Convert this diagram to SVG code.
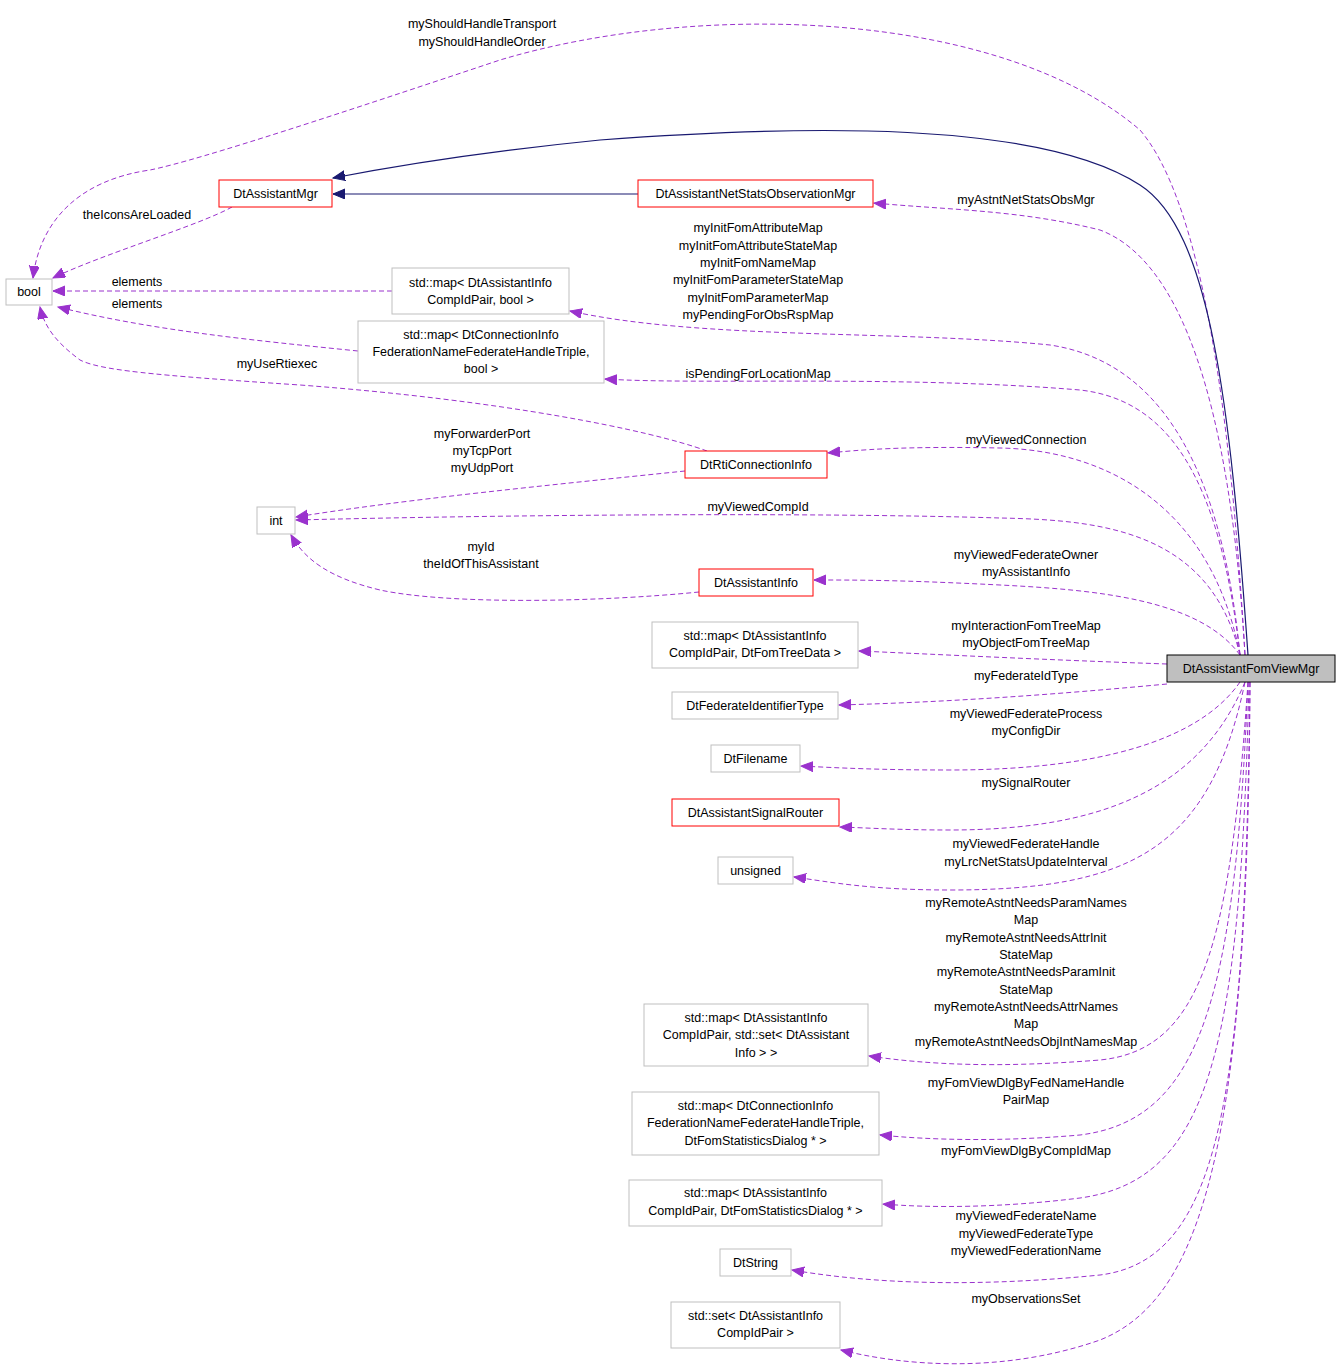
<svg xmlns="http://www.w3.org/2000/svg" width="1341" height="1371" viewBox="0 0 1341 1371">
<style>
text{font-family:"Liberation Sans",Arial,sans-serif;font-size:12.5px;fill:#000;text-anchor:middle}
.n rect{fill:#fff;stroke:#bfbfbf;stroke-width:1}
.r rect{fill:#fff;stroke:#ff0000;stroke-width:1}
.d{fill:none;stroke:#9a32cd;stroke-width:1;stroke-dasharray:5,3;marker-end:url(#pa)}
.s{fill:none;stroke:#191970;stroke-width:1.2;marker-end:url(#na)}
</style>
<defs>
<marker id="pa" markerUnits="userSpaceOnUse" markerWidth="14" markerHeight="12" refX="12" refY="5" orient="auto" viewBox="0 0 14 12"><path d="M0,0 L12,5 L0,10 Z" fill="#9a32cd" stroke="#9a32cd"/></marker>
<marker id="na" markerUnits="userSpaceOnUse" markerWidth="14" markerHeight="12" refX="12" refY="5" orient="auto" viewBox="0 0 14 12"><path d="M0,0 L12,5 L0,10 Z" fill="#191970" stroke="#191970"/></marker>
</defs>
<rect width="1341" height="1371" fill="#fff"/>
<g id="edges">
<path class="d" d="M1245,655 C1230,400 1200,200 1140,130 C1000,10 700,0 500,60 C350,110 200,160 150,170 C80,180 40,220 33,278"/>
<path class="s" d="M1248,655 C1230,400 1210,230 1140,185 C1040,120 800,125 600,140 C500,150 400,165 333,178"/>
<path class="s" d="M638,194 L333,194"/>
<path class="d" d="M1245,655 C1230,400 1180,260 1100,230 C1020,210 950,210 874,203"/>
<path class="d" d="M232,207 C200,225 100,255 53,278"/>
<path class="d" d="M392,291 L53,291"/>
<path class="d" d="M358,351 C250,340 150,330 58,307"/>
<path class="d" d="M707,451 C650,430 500,400 300,385 C150,375 100,370 80,360 C60,345 45,330 40,307"/>
<path class="d" d="M1240,655 C1220,450 1150,360 1050,345 C900,330 700,340 570,311"/>
<path class="d" d="M1240,655 C1220,480 1170,400 1080,390 C900,375 700,385 605,379"/>
<path class="d" d="M1240,655 C1210,500 1100,450 1000,448 C900,446 860,450 828,453"/>
<path class="d" d="M685,471 C550,485 400,500 296,517"/>
<path class="d" d="M1240,655 C1210,530 1100,520 1000,518 C800,512 500,515 296,520"/>
<path class="d" d="M699,592 C600,602 450,605 380,590 C330,578 305,560 291,535"/>
<path class="d" d="M1240,655 C1200,600 1100,590 1000,585 C900,580 860,580 814,580"/>
<path class="d" d="M1167,664 C1050,660 950,655 859,651"/>
<path class="d" d="M1167,684 C1050,695 950,702 839,705"/>
<path class="d" d="M1240,682 C1200,740 1100,770 950,770 C880,770 840,768 801,766"/>
<path class="d" d="M1245,682 C1200,790 1100,830 950,830 C900,830 870,828 840,827"/>
<path class="d" d="M1245,682 C1210,850 1130,890 950,890 C870,890 830,882 794,877"/>
<path class="d" d="M1248,682 C1230,950 1200,1050 1100,1060 C1000,1068 930,1065 869,1056"/>
<path class="d" d="M1248,682 C1235,1000 1200,1120 1080,1135 C1000,1142 930,1140 880,1135"/>
<path class="d" d="M1249,682 C1240,1050 1210,1180 1080,1198 C1000,1208 930,1208 883,1204"/>
<path class="d" d="M1250,682 C1245,1100 1220,1260 1100,1275 C950,1290 850,1280 792,1270"/>
<path class="d" d="M1250,682 C1248,1150 1200,1300 1100,1340 C1000,1375 900,1365 841,1350"/>
</g>
<g id="labels">
<text x="482" y="28">myShouldHandleTransport</text><text x="482" y="46">myShouldHandleOrder</text>
<text x="1026" y="204">myAstntNetStatsObsMgr</text>
<text x="137" y="219">theIconsAreLoaded</text>
<text x="137" y="286">elements</text>
<text x="137" y="308">elements</text>
<text x="277" y="368">myUseRtiexec</text>
<text x="758" y="232">myInitFomAttributeMap</text><text x="758" y="250">myInitFomAttributeStateMap</text><text x="758" y="267">myInitFomNameMap</text><text x="758" y="284">myInitFomParameterStateMap</text><text x="758" y="302">myInitFomParameterMap</text><text x="758" y="319">myPendingForObsRspMap</text>
<text x="758" y="378">isPendingForLocationMap</text>
<text x="1026" y="444">myViewedConnection</text>
<text x="482" y="438">myForwarderPort</text><text x="482" y="455">myTcpPort</text><text x="482" y="472">myUdpPort</text>
<text x="758" y="511">myViewedCompId</text>
<text x="481" y="551">myId</text><text x="481" y="568">theIdOfThisAssistant</text>
<text x="1026" y="559">myViewedFederateOwner</text><text x="1026" y="576">myAssistantInfo</text>
<text x="1026" y="630">myInteractionFomTreeMap</text><text x="1026" y="647">myObjectFomTreeMap</text>
<text x="1026" y="680">myFederateIdType</text>
<text x="1026" y="718">myViewedFederateProcess</text><text x="1026" y="735">myConfigDir</text>
<text x="1026" y="787">mySignalRouter</text>
<text x="1026" y="848">myViewedFederateHandle</text><text x="1026" y="866">myLrcNetStatsUpdateInterval</text>
<text x="1026" y="907">myRemoteAstntNeedsParamNames</text><text x="1026" y="924">Map</text><text x="1026" y="942">myRemoteAstntNeedsAttrInit</text><text x="1026" y="959">StateMap</text><text x="1026" y="976">myRemoteAstntNeedsParamInit</text><text x="1026" y="994">StateMap</text><text x="1026" y="1011">myRemoteAstntNeedsAttrNames</text><text x="1026" y="1028">Map</text><text x="1026" y="1046">myRemoteAstntNeedsObjIntNamesMap</text>
<text x="1026" y="1087">myFomViewDlgByFedNameHandle</text><text x="1026" y="1104">PairMap</text>
<text x="1026" y="1155">myFomViewDlgByCompIdMap</text>
<text x="1026" y="1220">myViewedFederateName</text><text x="1026" y="1238">myViewedFederateType</text><text x="1026" y="1255">myViewedFederationName</text>
<text x="1026" y="1303">myObservationsSet</text>
</g>
<g id="bool" class="n"><rect x="6" y="279" width="46" height="26"/><text x="29" y="296">bool</text></g>
<g id="DtAssistantMgr" class="r"><rect x="219" y="180" width="113" height="27"/><text x="275.5" y="198">DtAssistantMgr</text></g>
<g id="DtAssistantNetStatsObservationMgr" class="r"><rect x="638" y="180" width="235" height="27"/><text x="755.5" y="198">DtAssistantNetStatsObservationMgr</text></g>
<g id="map1" class="n"><rect x="392" y="268" width="177" height="46"/><text x="480.5" y="287">std::map&lt; DtAssistantInfo</text><text x="480.5" y="304">CompIdPair, bool &gt;</text></g>
<g id="map2" class="n"><rect x="358" y="321" width="246" height="62"/><text x="481" y="339">std::map&lt; DtConnectionInfo</text><text x="481" y="356">FederationNameFederateHandleTriple,</text><text x="481" y="373">bool &gt;</text></g>
<g id="DtRtiConnectionInfo" class="r"><rect x="685" y="451" width="142" height="27"/><text x="756" y="469">DtRtiConnectionInfo</text></g>
<g id="int" class="n"><rect x="257" y="507" width="38" height="27"/><text x="276" y="525">int</text></g>
<g id="DtAssistantInfo" class="r"><rect x="699" y="569" width="114" height="27"/><text x="756" y="587">DtAssistantInfo</text></g>
<g id="map3" class="n"><rect x="652" y="622" width="206" height="46"/><text x="755" y="640">std::map&lt; DtAssistantInfo</text><text x="755" y="657">CompIdPair, DtFomTreeData &gt;</text></g>
<g id="DtFederateIdentifierType" class="n"><rect x="672" y="692" width="166" height="27"/><text x="755" y="710">DtFederateIdentifierType</text></g>
<g id="DtFilename" class="n"><rect x="711" y="745" width="89" height="27"/><text x="755.5" y="763">DtFilename</text></g>
<g id="DtAssistantSignalRouter" class="r"><rect x="672" y="799" width="167" height="27"/><text x="755.5" y="817">DtAssistantSignalRouter</text></g>
<g id="unsigned" class="n"><rect x="718" y="857" width="75" height="27"/><text x="755.5" y="875">unsigned</text></g>
<g id="map4" class="n"><rect x="644" y="1004" width="224" height="62"/><text x="756" y="1022">std::map&lt; DtAssistantInfo</text><text x="756" y="1039">CompIdPair, std::set&lt; DtAssistant</text><text x="756" y="1057">Info &gt; &gt;</text></g>
<g id="map5" class="n"><rect x="632" y="1092" width="247" height="63"/><text x="755.5" y="1110">std::map&lt; DtConnectionInfo</text><text x="755.5" y="1127">FederationNameFederateHandleTriple,</text><text x="755.5" y="1145">DtFomStatisticsDialog * &gt;</text></g>
<g id="map6" class="n"><rect x="629" y="1180" width="253" height="46"/><text x="755.5" y="1197">std::map&lt; DtAssistantInfo</text><text x="755.5" y="1215">CompIdPair, DtFomStatisticsDialog * &gt;</text></g>
<g id="DtString" class="n"><rect x="720" y="1249" width="71" height="27"/><text x="755.5" y="1267">DtString</text></g>
<g id="set1" class="n"><rect x="671" y="1302" width="169" height="46"/><text x="755.5" y="1320">std::set&lt; DtAssistantInfo</text><text x="755.5" y="1337">CompIdPair &gt;</text></g>
<g id="DtAssistantFomViewMgr"><rect x="1167" y="655" width="168" height="27" fill="#bfbfbf" stroke="#000"/><text x="1251" y="673">DtAssistantFomViewMgr</text></g>
</svg>
